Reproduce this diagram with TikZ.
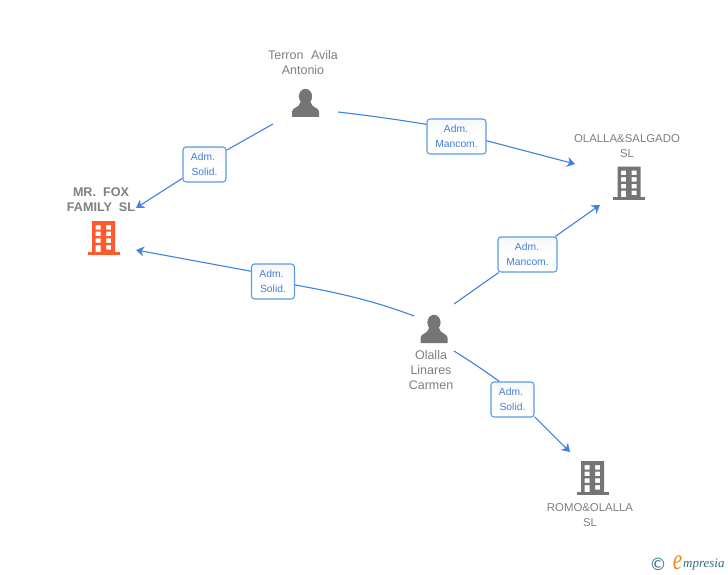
\documentclass[tikz,border=0pt]{standalone}
\usepackage{fontspec}
\usepackage{graphicx}
\setmainfont{Liberation Sans}
\newfontfamily\logofont{Liberation Serif}
\newfontfamily\symfont{DejaVu Sans}
\usetikzlibrary{arrows.meta}
\definecolor{linkblue}{HTML}{3F82E0}
\definecolor{boxedge}{HTML}{5C9BE8}
\definecolor{txtblue}{HTML}{3F7FDC}
\definecolor{txtgray}{HTML}{808080}
\definecolor{icongray}{HTML}{757575}
\definecolor{iconorange}{HTML}{FF5A2C}
\definecolor{logoteal}{HTML}{2F6F86}
\definecolor{logoorange}{HTML}{F08A1D}
\tikzset{
  link/.style={draw=linkblue,line width=1.1pt},
  arrowlink/.style={link,-{Stealth[length=8pt,width=10pt,inset=2.5pt]}},
  rolebox/.style={draw=boxedge,line width=1.1pt,rounded corners=3pt,top color=black!3,bottom color=white,middle color=white,
    inner sep=0pt,text=txtblue,font=\fontsize{10.3}{15}\selectfont,align=center},
  solidbox/.style={rolebox,minimum width=43pt,minimum height=35pt},
  mancombox/.style={rolebox,minimum width=59pt,minimum height=35pt},
  namelabel/.style={text=txtgray,font=\fontsize{12.5}{15}\selectfont,align=center,inner sep=0pt},
  capslabel/.style={namelabel,font=\fontsize{11.4}{15}\selectfont},
  boldlabel/.style={namelabel,font=\fontsize{12.6}{14.5}\selectfont\bfseries},
  building/.pic={
    \fill[pic actions,even odd rule]
      (-11.5,-16.5) rectangle (11.5,15)
      (-8,-12.5) rectangle (-2.8,-8) (2.5,-12.5) rectangle (7.7,-8)
      (-8,-5.8) rectangle (-2.8,-1.3) (2.5,-5.8) rectangle (7.7,-1.3)
      (-8,0.8) rectangle (-2.8,5.3) (2.5,0.8) rectangle (7.7,5.3)
      (-8,7.5) rectangle (-2.8,15) (2.5,7.5) rectangle (7.7,12);
    \fill[pic actions] (-16,14.2) rectangle (16,17);
  },
  person/.pic={
    \fill[pic actions] (0,-6.5) ellipse (6.6 and 7.7);
    \fill[pic actions] (-13.5,13.5) .. controls (-13.5,14) .. (-13,14) -- (13,14) .. controls (13.5,14) .. (13.5,13.5) -- (13.5,8.5)
      .. controls (13.5,4.5) and (6,5) .. (5,-1)
      -- (-5,-1)
      .. controls (-6,5) and (-13.5,4.5) .. (-13.5,8.5)
      -- cycle;
  }
}
\begin{document}
\begin{tikzpicture}[x=1pt,y=-1pt]
\useasboundingbox (0,0) rectangle (728,575);
\fill[white] (0,0) rectangle (728,575);
% icons
\pic[fill=iconorange] (foxicon) at (103.5,237.5) {building};
\pic[fill=icongray] (salgadoicon) at (629,183) {building};
\pic[fill=icongray] (romoicon) at (592.5,477.5) {building};
\pic[fill=icongray] (terronicon) at (305.5,103) {person};
\pic[fill=icongray] (olallaicon) at (434,329) {person};
% labels
\node[namelabel] (terron) at (303,62.5) {Terron\hspace{4pt} Avila\\Antonio};
\node[capslabel] (salgado) at (627,146) {OLALLA\&SALGADO\\SL};
\node[boldlabel] (fox) at (101,199.5) {MR.\ \ FOX\\FAMILY\ \ SL};
\node[namelabel] (olalla) at (431,370.5) {Olalla\\Linares\\Carmen};
\node[capslabel] (romo) at (590,515) {ROMO\&OLALLA\\SL};
% role boxes
\node[solidbox] (boxa) at (204.5,164.5) {Adm.\hbox to 3pt{}\\Solid.};
\node[mancombox] (boxb) at (456.5,136.5) {Adm.\hbox to 1pt{}\\Mancom.};
\node[solidbox] (boxc) at (273,281.5) {Adm.\hbox to 3pt{}\\Solid.};
\node[mancombox] (boxd) at (527.5,254.5) {Adm.\hbox to 1pt{}\\Mancom.};
\node[solidbox] (boxe) at (512.5,399.5) {Adm.\hbox to 3pt{}\\Solid.};
% connector ends
\coordinate (ta) at (273,124);
\coordinate (af) at (136,208);
\coordinate (tb) at (338,112);
\coordinate (bs) at (575,164);
\coordinate (oc) at (414,316);
\coordinate (cf) at (136,250);
\coordinate (od) at (454,304);
\coordinate (ds) at (600,205);
\coordinate (oe) at (454,351);
\coordinate (er) at (570,452);
% connectors
\draw[link] (ta) -- (boxa.33.4);
\draw[arrowlink] (boxa.212) -- (af);
\draw[link] (tb) .. controls (368,115.5) and (397,119.5) .. (boxb.158.7);
\draw[arrowlink] (boxb.-8.7) -- (bs);
\draw[link] (oc) .. controls (375,301) and (335,292) .. (boxc.-9);
\draw[arrowlink] (boxc.155.7) -- (cf);
\draw[link] (od) -- (boxd.212.5);
\draw[arrowlink] (boxd.33.4) -- (ds);
\draw[link] (oe) .. controls (470,361) and (485,371) .. (boxe.126);
\draw[arrowlink] (boxe.-38.7) -- (er);
% logo
\node[inner sep=0pt,text=logoteal,font=\symfont\fontsize{17}{17}\selectfont] (copyr) at (658,564) {©};
\node[inner sep=0pt,text=logoorange,font=\logofont\itshape\fontsize{21}{21}\selectfont] (logoe) at (677.5,563) {\scalebox{1}[1.4]{e}};
\node[inner sep=0pt,text=logoteal,font=\logofont\itshape\fontsize{13}{13}\selectfont,anchor=west] (logotxt) at (683,565) {mpresia};
\end{tikzpicture}
\end{document}
